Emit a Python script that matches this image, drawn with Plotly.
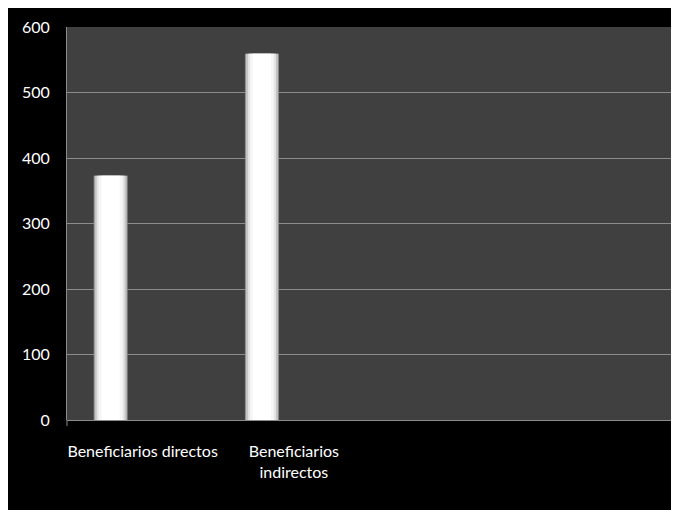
import plotly.graph_objects as go

categories = ["Beneficiarios directos", "Beneficiarios<br>indirectos"]
values = [373, 559]
y_ticks = [0, 100, 200, 300, 400, 500, 600]

CAT_PX = 151.3
OFF = -0.3235
W = 0.2247

fig = go.Figure()
# layered bars to mimic the bevelled white gradient
layers = [(0, "#8e8e8e"), (1, "#c4c4c4"), (3, "#e4e4e4"), (5, "#f6f6f6"), (8, "#ffffff")]
for inset, col in layers:
    fig.add_trace(go.Bar(
        x=categories, y=values,
        offset=OFF + inset / CAT_PX,
        width=W - 2 * inset / CAT_PX,
        marker=dict(color=col, line=dict(width=0)),
        hoverinfo="skip", showlegend=False,
    ))

fig.update_layout(
    width=671, height=502,
    margin=dict(l=59, r=4, t=19, b=90),
    paper_bgcolor="black",
    plot_bgcolor="#404040",
    barmode="overlay",
    font=dict(family="Lato", color="white", size=16),
    shapes=[
        dict(type="line", xref="paper", yref="paper", x0=1, x1=1, y0=0, y1=1,
             line=dict(color="#2a2a2a", width=2), layer="above"),
        dict(type="line", xref="paper", yref="paper", x0=0.999, x1=0.999, y0=0, y1=-0.015,
             line=dict(color="#8c8c8c", width=1), layer="above"),
        dict(type="line", xref="paper", yref="paper", x0=0, x1=0, y0=0, y1=-0.015,
             line=dict(color="#8c8c8c", width=1), layer="above"),
    ],
    xaxis=dict(
        type="category", range=[-0.5, 3.52], showgrid=False,
        showline=False, ticks="", tickfont=dict(size=16, color="white"),
        ticklabelstandoff=20, fixedrange=True,
    ),
    yaxis=dict(
        range=[0, 600], tickvals=y_ticks, showgrid=True, gridcolor="#8c8c8c",
        gridwidth=1, zeroline=True, zerolinecolor="#8c8c8c", zerolinewidth=1,
        showline=True, linecolor="#8c8c8c", linewidth=1, ticks="",
        ticklabelstandoff=13, tickfont=dict(size=16, color="white"),
    ),
)
fig.write_html("out.html")
